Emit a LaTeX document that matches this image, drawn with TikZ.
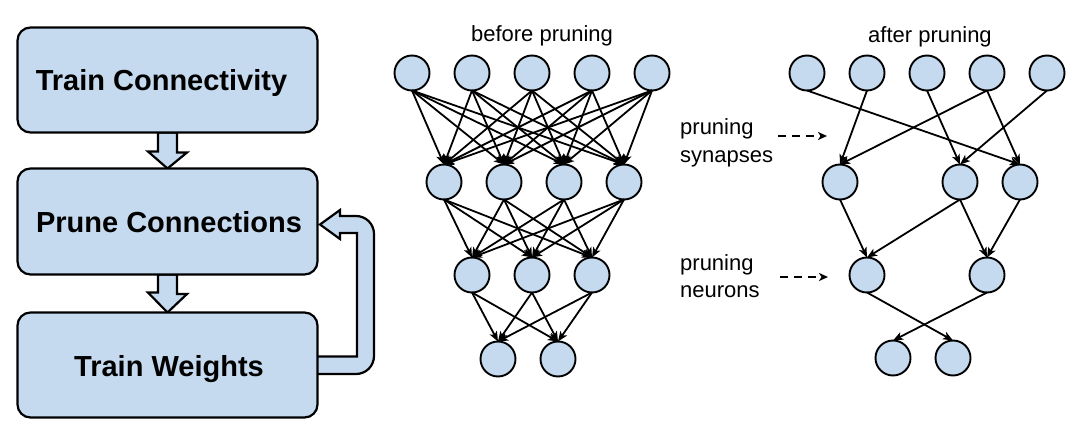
\documentclass[tikz,border=0pt]{standalone}
\usepackage{fontspec}
\setmainfont{Liberation Sans}
\usetikzlibrary{arrows.meta,backgrounds}
\definecolor{nodeblue}{RGB}{197,218,238}
\begin{document}
\begin{tikzpicture}[x=1pt,y=-1pt,
  neuron/.style={circle,draw,line width=1.9pt,fill=nodeblue,minimum size=35pt,inner sep=0pt,outer sep=0pt},
  syn/.style={line width=1.8pt,-{Stealth[length=10pt,width=8pt,inset=2.5pt]}},
  stepbox/.style={draw,line width=2.2pt,fill=nodeblue,rounded corners=13pt,minimum width=300pt,minimum height=105pt,inner sep=0pt,outer sep=0pt},
  boxtext/.style={font=\bfseries\fontsize{29}{31}\selectfont,anchor=base,inner sep=0pt},
  lbl/.style={font=\fontsize{22}{24}\selectfont,anchor=base west,inner sep=0pt},
  ttl/.style={font=\fontsize{22}{24}\selectfont,anchor=base,inner sep=0pt},
  blockarrow/.style={draw,line width=2.2pt,fill=nodeblue,line join=miter},
  dasharrow/.style={line width=1.8pt,dash pattern=on 8pt off 6pt,-{Stealth[length=9pt,width=8pt,inset=2.5pt]}}
]
\useasboundingbox (0,0) rectangle (1069,425);

% left flow
\node[stepbox] (b1) at (167.5,80) {};
\node[stepbox,minimum height=106pt] (b2) at (167.5,221.5) {};
\node[stepbox] (b3) at (167.5,365) {};
\node[boxtext] (t1) at (161.5,91) {Train Connectivity};
\node[boxtext] (t2) at (169,232.5) {Prune Connections};
\node[boxtext] (t3) at (169,376) {Train Weights};

\begin{scope}[on background layer]
\draw[blockarrow] ([xshift=-9.5pt]b1.south) -- ++(0,19) -- ++(-10,0) -- (b2.north) -- ++(19.5,-16) -- ++(-10,0) -- ([xshift=9.5pt]b1.south) -- cycle;
\draw[blockarrow] ([xshift=-9.5pt]b2.south) -- ++(0,18) -- ++(-10,0) -- (b3.north) -- ++(19.5,-18.5) -- ++(-10,0) -- ([xshift=9.5pt]b2.south) -- cycle;
\draw[blockarrow] (310,356.5) -- (357,356.5) -- (357,233) -- (340,233) -- (340,239) -- (320,224.5) -- (340,210) -- (340,216) -- (356,216)
  .. controls (366,216) and (374,224) .. (374,234) -- (374,356)
  .. controls (374,366) and (366,374) .. (356,374) -- (310,374) -- cycle;
\end{scope}

% before pruning
\node[ttl] (tb) at (542,42) {before pruning};
\foreach \x [count=\i] in {412,472,532,592,652} \node[neuron] (p1-\i) at (\x,73) {};
\foreach \x [count=\i] in {444,504,564,624} \node[neuron] (p2-\i) at (\x,182) {};
\foreach \x [count=\i] in {472,532,592} \node[neuron] (p3-\i) at (\x,275) {};
\foreach \x [count=\i] in {498,558} \node[neuron] (p4-\i) at (\x,359) {};
\foreach \i in {1,...,5} \foreach \j in {1,...,4} \draw[syn] (p1-\i.south) -- (p2-\j.north);
\foreach \i in {1,...,4} \foreach \j in {1,...,3} \draw[syn] (p2-\i.south) -- (p3-\j.north);
\foreach \i in {1,...,3} \foreach \j in {1,...,2} \draw[syn] (p3-\i.south) -- (p4-\j.north);

% after pruning
\node[ttl] (ta) at (930,43) {after pruning};
\foreach \x [count=\i] in {807,867,927,987,1047} \node[neuron] (q1-\i) at (\x,73) {};
\node[neuron] (q2-1) at (840,182) {};
\node[neuron] (q2-3) at (960,182) {};
\node[neuron] (q2-4) at (1020,182) {};
\node[neuron] (q3-1) at (867,275) {};
\node[neuron] (q3-3) at (987,275) {};
\node[neuron] (q4-1) at (893,358) {};
\node[neuron] (q4-2) at (953,358) {};
\draw[syn] (q1-1.south) -- (q2-4.north);
\draw[syn] (q1-2.south) -- (q2-1.north);
\draw[syn] (q1-3.south) -- (q2-3.north);
\draw[syn] (q1-4.south) -- (q2-1.north);
\draw[syn] (q1-4.south) -- (q2-4.north);
\draw[syn] (q1-5.south) -- (q2-3.north);
\draw[syn] (q2-1.south) -- (q3-1.north);
\draw[syn] (q2-3.south) -- (q3-1.north);
\draw[syn] (q2-3.south) -- (q3-3.north);
\draw[syn] (q2-4.south) -- (q3-3.north);
\draw[syn] (q3-1.south) -- (q4-2.north);
\draw[syn] (q3-3.south) -- (q4-1.north);

% labels
\node[lbl] (l1) at (680,135) {pruning};
\node[lbl] (l2) at (680,163) {synapses};
\node[lbl] (l3) at (680,270) {pruning};
\node[lbl] (l4) at (680,297) {neurons};
\coordinate (d1a) at (778,136);
\coordinate (d1b) at (827,136);
\coordinate (d2a) at (780,277);
\coordinate (d2b) at (828,277);
\draw[dasharrow] (d1a) -- (d1b);
\draw[dasharrow] (d2a) -- (d2b);
\end{tikzpicture}
\end{document}
